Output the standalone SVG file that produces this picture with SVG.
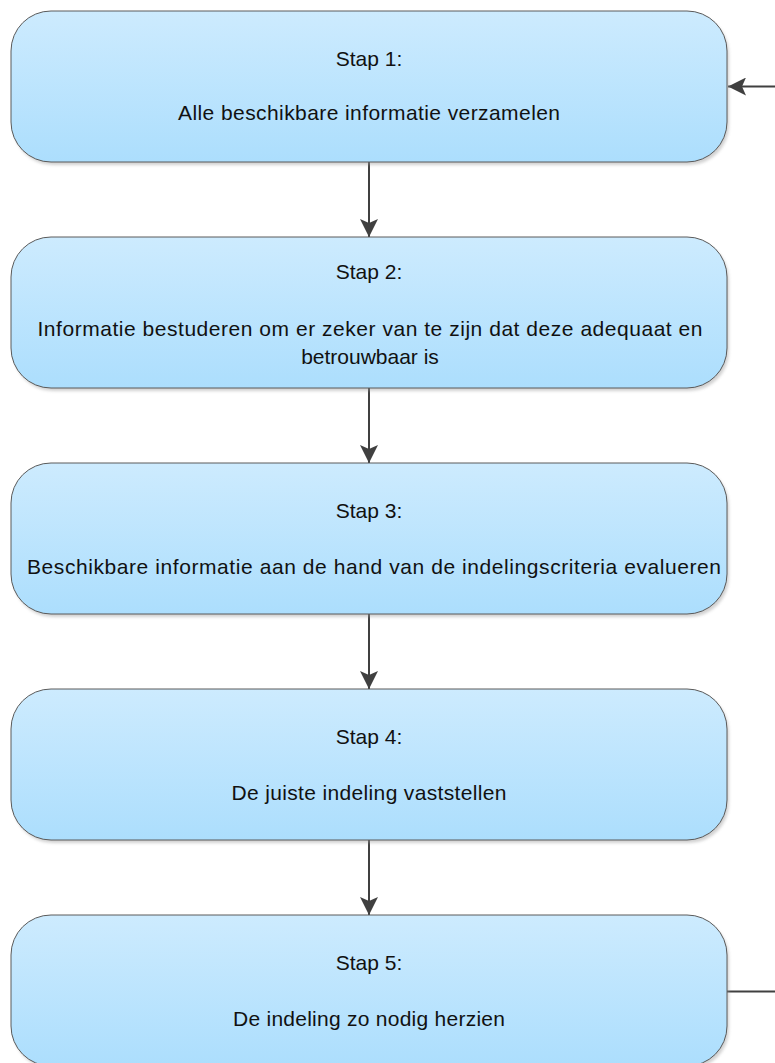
<svg xmlns="http://www.w3.org/2000/svg" width="775" height="1063" viewBox="0 0 775 1063">
  <style>
    .box { fill: url(#boxGrad); stroke: #5a5a5a; stroke-width: 1; }
    .shadow { fill: #9a9a9a; opacity: 0.45; filter: url(#blur); }
    .lbl { font-family: "Liberation Sans", Arial, sans-serif; font-size: 21px; fill: #111111; text-anchor: middle; }
    .conn { fill: none; stroke: #404040; stroke-width: 2; }
  </style>
  <defs>
    <linearGradient id="boxGrad" x1="0" y1="0" x2="0" y2="1">
      <stop offset="0" stop-color="#cdebfe"/>
      <stop offset="1" stop-color="#acdefd"/>
    </linearGradient>
    <filter id="blur" x="-5%" y="-5%" width="110%" height="115%">
      <feGaussianBlur stdDeviation="1.5"/>
    </filter>
    <marker id="arrow" viewBox="0 0 18 18" refX="18" refY="9" markerWidth="18" markerHeight="18" markerUnits="userSpaceOnUse" orient="auto">
      <path d="M0,0 L18,9 L0,18 L4,9 Z" fill="#404040"/>
    </marker>
  </defs>

  <g id="connectors">
    <line class="conn" x1="775" y1="86.5" x2="728" y2="86.5" marker-end="url(#arrow)"/>
    <line class="conn" x1="369" y1="162" x2="369" y2="237" marker-end="url(#arrow)"/>
    <line class="conn" x1="369" y1="388" x2="369" y2="463" marker-end="url(#arrow)"/>
    <line class="conn" x1="369" y1="614" x2="369" y2="689" marker-end="url(#arrow)"/>
    <line class="conn" x1="369" y1="840" x2="369" y2="915" marker-end="url(#arrow)"/>
    <line class="conn" x1="727" y1="991.5" x2="775" y2="991.5"/>
  </g>

  <g id="step1">
    <rect class="shadow" x="13" y="14" width="716" height="151" rx="40" ry="40"/>
    <rect class="box" x="11" y="11" width="716" height="151" rx="40" ry="40"/>
    <text class="lbl" x="369" y="66">Stap 1:</text>
    <text class="lbl" x="369" y="120" textLength="382" lengthAdjust="spacing">Alle beschikbare informatie verzamelen</text>
  </g>

  <g id="step2">
    <rect class="shadow" x="13" y="240" width="716" height="151" rx="40" ry="40"/>
    <rect class="box" x="11" y="237" width="716" height="151" rx="40" ry="40"/>
    <text class="lbl" x="369" y="279">Stap 2:</text>
    <text class="lbl" x="370" y="336" textLength="665" lengthAdjust="spacing">Informatie bestuderen om er zeker van te zijn dat deze adequaat en</text>
    <text class="lbl" x="370" y="364">betrouwbaar is</text>
  </g>

  <g id="step3">
    <rect class="shadow" x="13" y="466" width="716" height="151" rx="40" ry="40"/>
    <rect class="box" x="11" y="463" width="716" height="151" rx="40" ry="40"/>
    <text class="lbl" x="369" y="518">Stap 3:</text>
    <text class="lbl" x="374" y="574" textLength="694" lengthAdjust="spacing">Beschikbare informatie aan de hand van de indelingscriteria evalueren</text>
  </g>

  <g id="step4">
    <rect class="shadow" x="13" y="692" width="716" height="151" rx="40" ry="40"/>
    <rect class="box" x="11" y="689" width="716" height="151" rx="40" ry="40"/>
    <text class="lbl" x="369" y="744">Stap 4:</text>
    <text class="lbl" x="369" y="800" textLength="275" lengthAdjust="spacing">De juiste indeling vaststellen</text>
  </g>

  <g id="step5">
    <rect class="shadow" x="13" y="918" width="716" height="151" rx="40" ry="40"/>
    <rect class="box" x="11" y="915" width="716" height="151" rx="40" ry="40"/>
    <text class="lbl" x="369" y="970">Stap 5:</text>
    <text class="lbl" x="369" y="1026" textLength="272" lengthAdjust="spacing">De indeling zo nodig herzien</text>
  </g>
</svg>
